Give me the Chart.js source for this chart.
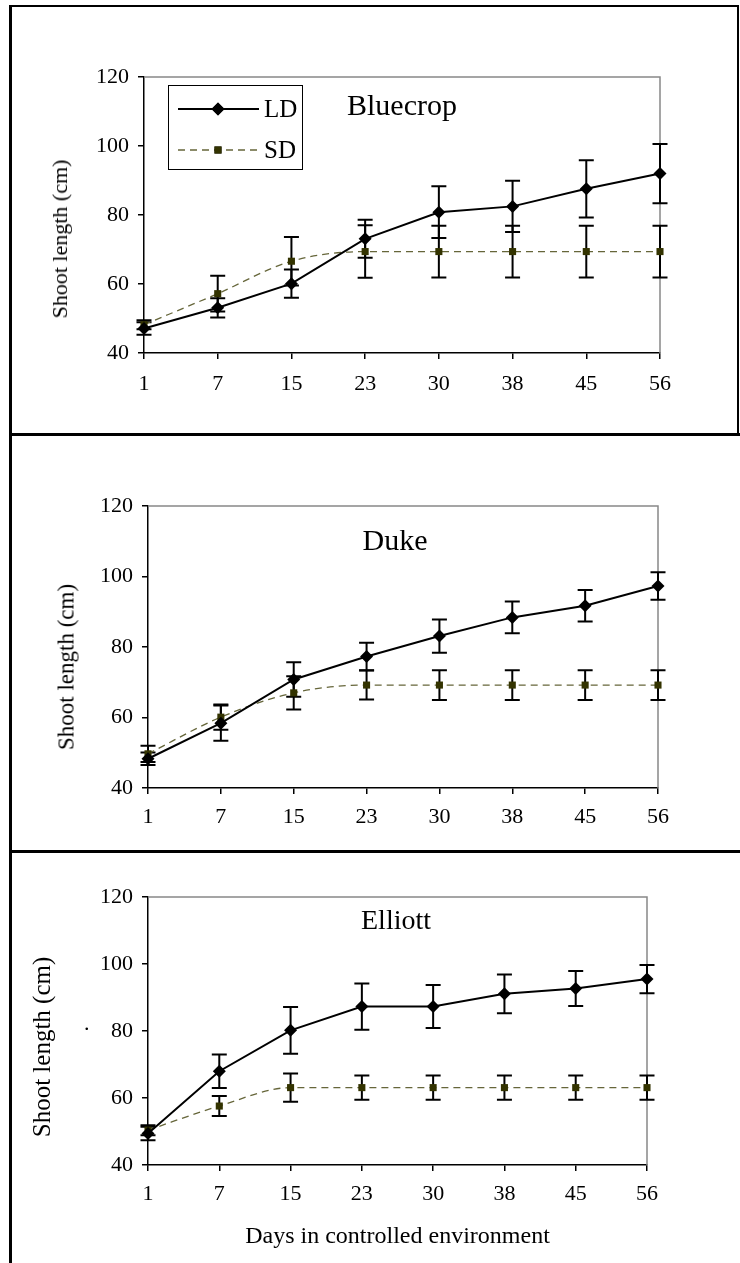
<!DOCTYPE html>
<html>
<head>
<meta charset="utf-8">
<script src="https://cdn.jsdelivr.net/npm/chart.js@4.4.0/dist/chart.umd.min.js"></script>
<style>
    html, body { margin: 0; padding: 0; background: #fff; }
    body { width: 740px; height: 1263px; position: relative; overflow: hidden;
           font-family: "Liberation Serif", "Times New Roman", serif; color: #000; }
    .panel { position: absolute; left: 0; width: 740px; }
    .rule { position: absolute; background: #000; }
    .name { position: absolute; transform: translateX(-50%); white-space: nowrap; line-height: 1; }
    .ytitle { position: absolute; white-space: nowrap; line-height: 1; transform: translate(-50%, -50%) rotate(-90deg); }
</style>
</head>
<body>

<div class="panel" style="top:0;height:434px"><canvas id="bluecrop" width="740" height="434"></canvas></div>
<div class="panel" style="top:437px;height:413px"><canvas id="duke" width="740" height="413"></canvas></div>
<div class="panel" style="top:853px;height:410px"><canvas id="elliott" width="740" height="410"></canvas></div>

<!-- frame lines -->
<div class="rule" style="left:9px;top:5px;width:3px;height:1258px"></div>
<div class="rule" style="left:9px;top:5px;width:730px;height:2px"></div>
<div class="rule" style="left:737px;top:5px;width:2px;height:430px"></div>
<div class="rule" style="left:9px;top:433px;width:731px;height:3px"></div>
<div class="rule" style="left:9px;top:850px;width:731px;height:3px"></div>

<div class="name" style="left:402px;top:90px;font-size:30px">Bluecrop</div>
<div class="name" style="left:395px;top:525px;font-size:30px">Duke</div>
<div class="name" style="left:396px;top:906px;font-size:28px">Elliott</div>

<div class="ytitle" style="left:60px;top:239px;font-size:22px">Shoot length (cm)</div>
<div class="ytitle" style="left:66px;top:667px;font-size:23px">Shoot length (cm)</div>
<div class="ytitle" style="left:41px;top:1047px;font-size:25px">Shoot length (cm)</div>
<div style="position:absolute;left:84px;top:1012px;font-size:22px;line-height:1">.</div>

<script>
// days in controlled environment
const days = ['1', '7', '15', '23', '30', '38', '45', '56'];
const yTicks = [40, 60, 80, 100, 120];

// Bluecrop
const bluecropLD = [47.1, 53.1, 60.1, 73.1, 80.8, 82.5, 87.6, 92.0];
const bluecropLDErr = [1.8, 2.8, 4.1, 5.5, 7.5, 7.4, 8.3, 8.6];
const bluecropSD = [48.2, 57.2, 66.6, 69.4, 69.4, 69.4, 69.4, 69.4];
const bluecropSDErr = [1.3, 5.2, 7.0, 7.6, 7.5, 7.5, 7.5, 7.5];

// Duke
const dukeLD = [48.3, 58.4, 70.8, 77.3, 83.1, 88.4, 91.7, 97.3];
const dukeLDErr = [1.8, 5.0, 4.9, 3.9, 4.7, 4.5, 4.5, 3.9];
const dukeSD = [49.7, 60.1, 67.0, 69.2, 69.2, 69.2, 69.2, 69.2];
const dukeSDErr = [2.3, 3.6, 4.7, 4.1, 4.2, 4.2, 4.2, 4.2];

// Elliott
const elliottLD = [49.4, 68.0, 80.2, 87.3, 87.3, 91.1, 92.7, 95.5];
const elliottLDErr = [2.0, 5.0, 7.0, 6.9, 6.4, 5.8, 5.2, 4.2];
const elliottSD = [50.4, 57.6, 63.1, 63.1, 63.1, 63.1, 63.1, 63.1];
const elliottSDErr = [1.5, 3.0, 4.2, 3.6, 3.6, 3.6, 3.6, 3.6];

Chart.defaults.font.family = '"Liberation Serif", "Times New Roman", serif';
Chart.defaults.color = '#000';

// grey top/right edge of the plot box + error bars under the markers
const boxAndErrors = {
    id: 'boxAndErrors',
    beforeDatasetsDraw(chart) {
        const { ctx, chartArea: a } = chart;
        const y = chart.scales.y;
        ctx.save();
        ctx.strokeStyle = '#888';
        ctx.lineWidth = 1.5;
        ctx.beginPath();
        ctx.moveTo(a.left, a.top);
        ctx.lineTo(a.right, a.top);
        ctx.lineTo(a.right, a.bottom);
        ctx.stroke();

        ctx.strokeStyle = '#000';
        ctx.lineWidth = 2;
        chart.data.datasets.forEach((ds, di) => {
            chart.getDatasetMeta(di).data.forEach((pt, i) => {
                const top = y.getPixelForValue(ds.data[i] + ds.errors[i]);
                const bot = y.getPixelForValue(ds.data[i] - ds.errors[i]);
                ctx.beginPath();
                ctx.moveTo(pt.x, top); ctx.lineTo(pt.x, bot);
                ctx.moveTo(pt.x - 7.5, top); ctx.lineTo(pt.x + 7.5, top);
                ctx.moveTo(pt.x - 7.5, bot); ctx.lineTo(pt.x + 7.5, bot);
                ctx.stroke();
            });
        });
        ctx.restore();
    }
};

// boxed legend inside the plot (Bluecrop only)
const boxLegend = {
    id: 'boxLegend',
    afterDraw(chart) {
        const { ctx, chartArea: a } = chart;
        const bx = a.left + 24, by = a.top + 8, bw = 134, bh = 84;
        ctx.save();
        ctx.strokeStyle = '#000';
        ctx.lineWidth = 1;
        ctx.strokeRect(bx + 0.5, by + 0.5, bw, bh);
        chart.data.datasets.forEach((ds, i) => {
            const cy = by + 24 + i * 41;
            ctx.strokeStyle = ds.borderColor;
            ctx.lineWidth = ds.borderWidth;
            ctx.setLineDash(ds.borderDash || []);
            ctx.beginPath();
            ctx.moveTo(bx + 10, cy); ctx.lineTo(bx + 91, cy);
            ctx.stroke();
            ctx.setLineDash([]);
            Chart.helpers.drawPoint(ctx, {
                pointStyle: ds.pointStyle, radius: ds.pointRadius, rotation: 0, borderWidth: 0
            }, bx + 50, cy);
            ctx.fillStyle = ds.pointBackgroundColor;
            ctx.fill();
            ctx.fillStyle = '#000';
            ctx.font = '25px "Liberation Serif", serif';
            ctx.textBaseline = 'middle';
            ctx.fillText(ds.label, bx + 96, cy + 1);
        });
        ctx.restore();
    }
};

function makeChart(id, ld, ldErr, sd, sdErr, lay, withLegend) {
    const xAxis = {
        type: 'category',
        offset: false,
        grid: { display: true, drawOnChartArea: false, drawTicks: true, tickLength: 6, color: '#000', lineWidth: 1.5 },
        border: { display: true, color: '#000', width: 1.5 },
        ticks: { font: { size: 22 }, padding: lay.xPad, maxRotation: 0, autoSkip: false },
        afterFit: s => { s.height = lay.xHeight; }
    };
    if (lay.xTitle) {
        xAxis.title = { display: true, text: lay.xTitle, font: { size: 24 }, padding: { top: 0, bottom: 12 } };
    }
    return new Chart(document.getElementById(id), {
        type: 'line',
        data: {
            labels: days,
            datasets: [{
                label: 'LD',
                data: ld,
                errors: ldErr,
                borderColor: '#000',
                borderWidth: 2,
                pointStyle: 'rectRot',
                pointRadius: 6.5,
                pointBackgroundColor: '#000',
                pointBorderWidth: 0,
                tension: 0,
                clip: false
            }, {
                label: 'SD',
                data: sd,
                errors: sdErr,
                borderColor: '#66663a',
                borderWidth: 1.3,
                borderDash: [7, 5],
                pointStyle: 'rect',
                pointRadius: 5,
                pointBackgroundColor: '#333300',
                pointBorderWidth: 0,
                cubicInterpolationMode: 'monotone',
                clip: false
            }]
        },
        options: {
            responsive: false,
            animation: false,
            layout: { padding: { left: 0, top: lay.top, right: lay.right, bottom: lay.bottom } },
            plugins: { legend: { display: false }, tooltip: { enabled: false } },
            scales: {
                x: xAxis,
                y: {
                    min: yTicks[0],
                    max: yTicks[yTicks.length - 1],
                    afterBuildTicks: s => { s.ticks = yTicks.map(v => ({ value: v })); },
                    grid: { display: true, drawOnChartArea: false, drawTicks: true, tickLength: 6, color: '#000', lineWidth: 1.5 },
                    border: { display: true, color: '#000', width: 1.5 },
                    ticks: { font: { size: 22 }, padding: 9 },
                    afterFit: s => { s.width = lay.yWidth; }
                }
            }
        },
        plugins: withLegend ? [boxAndErrors, boxLegend] : [boxAndErrors]
    });
}

makeChart('bluecrop', bluecropLD, bluecropLDErr, bluecropSD, bluecropSDErr,
    { top: 77, right: 80, bottom: 21, yWidth: 144, xHeight: 60, xPad: 12 }, true);
makeChart('duke', dukeLD, dukeLDErr, dukeSD, dukeSDErr,
    { top: 69, right: 82, bottom: 12, yWidth: 148, xHeight: 50, xPad: 10 }, false);
makeChart('elliott', elliottLD, elliottLDErr, elliottSD, elliottSDErr,
    { top: 44, right: 93, bottom: 0, yWidth: 148, xHeight: 98, xPad: 10, xTitle: 'Days in controlled environment' }, false);
</script>
</body>
</html>
